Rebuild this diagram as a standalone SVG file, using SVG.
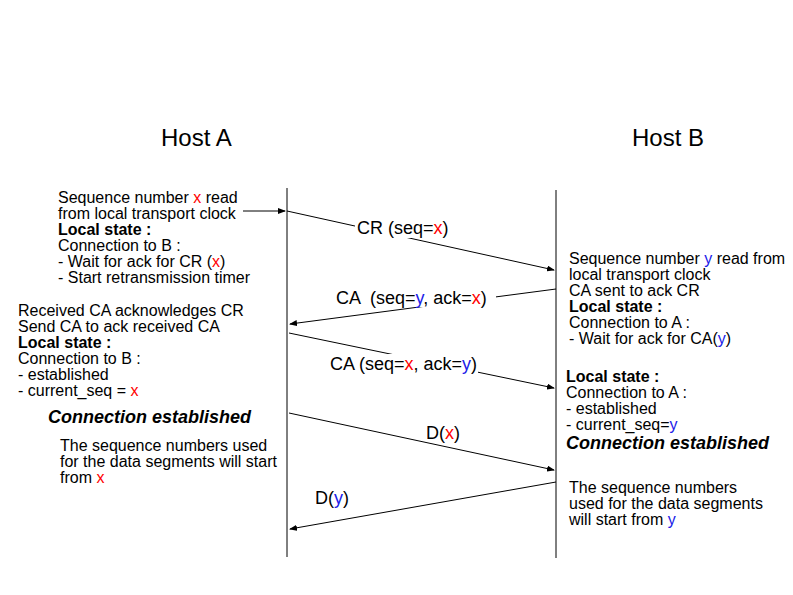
<svg xmlns="http://www.w3.org/2000/svg" width="793" height="595" viewBox="0 0 793 595">
<style>
text{font-family:"Liberation Sans",Arial,sans-serif;font-size:16px;fill:#000}
.t{font-size:24px}
.lb{font-size:18px}
.b{font-weight:bold}
.bi{font-weight:bold;font-style:italic;font-size:18px}
.r{fill:#ff0000}
.u{fill:#2020e8}
.ln{stroke:#000;stroke-width:1;fill:none}
.arr{stroke:#000;stroke-width:1;fill:none;marker-end:url(#ah)}
</style>
<defs>
<marker id="ah" markerWidth="8" markerHeight="6" refX="7" refY="3" orient="auto" markerUnits="userSpaceOnUse">
<path d="M0,0 L8,3 L0,6 z" fill="#000"/>
</marker>
</defs>
<rect width="793" height="595" fill="#fff"/>
<g id="hostA"><text class="t" x="161" y="146">Host A</text><line class="ln" x1="287" y1="188" x2="287" y2="557"/></g>
<g id="hostB"><text class="t" x="632" y="146">Host B</text><line class="ln" x1="556" y1="190" x2="556" y2="558"/></g>
<g id="connectors">
<line class="arr" x1="243" y1="211" x2="285" y2="211"/>
<line class="arr" x1="287" y1="211" x2="554" y2="270"/>
<line class="arr" x1="556" y1="289" x2="290" y2="324"/>
<line class="arr" x1="289" y1="333" x2="554" y2="388"/>
<line class="arr" x1="289" y1="413" x2="554" y2="470"/>
<line class="arr" x1="556" y1="482" x2="290" y2="529"/>
<rect x="355" y="219" width="94" height="19" fill="#fff"/>
<text class="lb" x="357" y="234">CR (seq=<tspan class="r">x</tspan>)</text>
<rect x="334" y="288" width="162" height="19" fill="#fff"/>
<text class="lb" x="336" y="304">CA &#160;(seq=<tspan class="u">y</tspan>, ack=<tspan class="r">x</tspan>)</text>
<rect x="328" y="354" width="150" height="19" fill="#fff"/>
<text class="lb" x="330" y="370">CA (seq=<tspan class="r">x</tspan>, ack=<tspan class="u">y</tspan>)</text>
<text class="lb" x="426" y="439">D(<tspan class="r">x</tspan>)</text>
<text class="lb" x="315" y="504">D(<tspan class="u">y</tspan>)</text>
</g>
<g id="a1">
<text x="58" y="203">Sequence number <tspan class="r">x</tspan> read</text>
<text x="58" y="219">from local transport clock</text>
<text x="58" y="235" class="b">Local state :</text>
<text x="58" y="251">Connection to B :</text>
<text x="58" y="267">- Wait for ack for CR (<tspan class="r">x</tspan>)</text>
<text x="58" y="283">- Start retransmission timer</text>
</g>
<g id="a2">
<text x="18" y="316">Received CA acknowledges CR</text>
<text x="18" y="332">Send CA to ack received CA</text>
<text x="18" y="348" class="b">Local state :</text>
<text x="18" y="364">Connection to B :</text>
<text x="18" y="380">- established</text>
<text x="18" y="396">- current_seq = <tspan class="r">x</tspan></text>
<text x="48" y="423" class="bi">Connection established</text>
<text x="60" y="451">The sequence numbers used</text>
<text x="60" y="467">for the data segments will start</text>
<text x="60" y="483">from <tspan class="r">x</tspan></text>
</g>
<g id="b1">
<text x="569" y="264">Sequence number <tspan class="u">y</tspan> read from</text>
<text x="569" y="280">local transport clock</text>
<text x="569" y="296">CA sent to ack CR</text>
<text x="569" y="312" class="b">Local state :</text>
<text x="569" y="328">Connection to A :</text>
<text x="569" y="344">- Wait for ack for CA(<tspan class="u">y</tspan>)</text>
</g>
<g id="b2">
<text x="566" y="382" class="b">Local state :</text>
<text x="566" y="398">Connection to A :</text>
<text x="566" y="414">- established</text>
<text x="566" y="430">- current_seq=<tspan class="u">y</tspan></text>
<text x="566" y="449" class="bi">Connection established</text>
<text x="569" y="493">The sequence numbers</text>
<text x="569" y="509">used for the data segments</text>
<text x="569" y="525">will start from <tspan class="u">y</tspan></text>
</g>
</svg>
